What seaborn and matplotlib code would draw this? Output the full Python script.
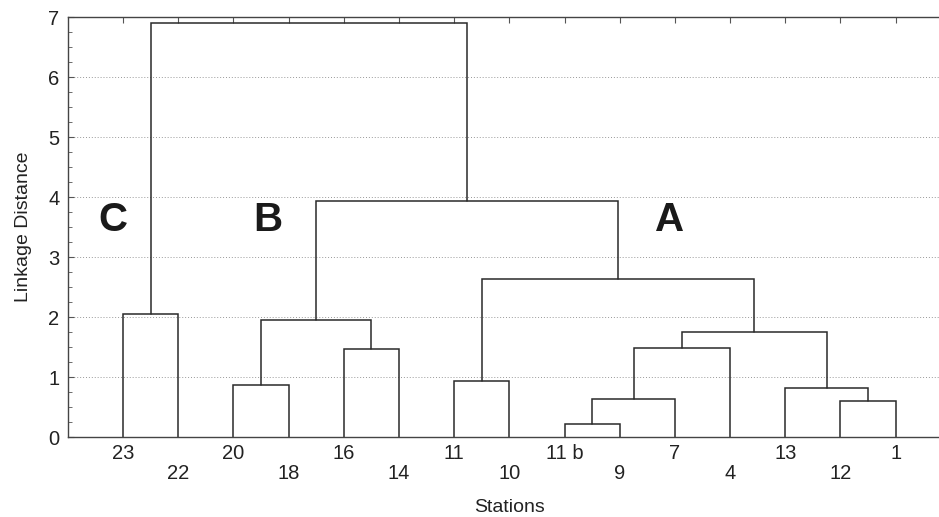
import seaborn as sns
import matplotlib.pyplot as plt
import numpy as np
from matplotlib.ticker import MultipleLocator

# leaf order along the x axis
stations = ["23", "22", "20", "18", "16", "14", "11", "10",
            "11 b", "9", "7", "4", "13", "12", "1"]

# merges: (left, right, linkage distance); ints refer to earlier merges
merge_left = ["23", "20", "16", 1, "11", "11 b", 5, 6, "12", "13", 7, 4, 3, 0]
merge_right = ["22", "18", "14", 2, "10", "9", "7", "4", "1", 8, 9, 10, 11, 12]
merge_height = [2.05, 0.86, 1.47, 1.95, 0.93, 0.22, 0.63, 1.49, 0.60, 0.81,
                1.75, 2.63, 3.93, 6.90]

groups = ["C", "B", "A"]
group_x = [0.82, 3.63, 10.9]
group_y = [3.62, 3.62, 3.62]

sns.set_style("white")
plt.rcParams["font.family"] = ["Liberation Sans", "DejaVu Sans"]

fig = plt.figure(figsize=(9.39, 5.17), dpi=100)
ax = fig.add_axes([0.0723, 0.1547, 0.9403, 0.8124])

leaf_x = {name: i + 1 for i, name in enumerate(stations)}


def node_pos(n, done):
    if isinstance(n, int):
        return done[n]
    return leaf_x[n], 0.0


done = []
for l, r, h in zip(merge_left, merge_right, merge_height):
    xl, yl = node_pos(l, done)
    xr, yr = node_pos(r, done)
    ax.plot([xl, xl, xr, xr], [yl, h, h, yr], color="#2a2a2a", lw=1.1,
            solid_joinstyle="miter")
    done.append(((xl + xr) / 2, h))

for g, gx, gy in zip(groups, group_x, group_y):
    ax.text(gx, gy, g, fontsize=29, fontweight="bold", ha="center",
            va="center", color="#1a1a1a")

ax.set_xlim(0, 16)
ax.set_ylim(0, 7)
ax.set_xticks(range(1, len(stations) + 1))
ax.set_xticklabels([s if i % 2 == 0 else "\n" + s for i, s in enumerate(stations)],
                   fontsize=14.5, color="#222222", linespacing=1.05)
ax.tick_params(axis="x", bottom=False, top=True, direction="in", length=4,
               pad=5, color="#555555")
ax.yaxis.set_major_locator(MultipleLocator(1))
ax.yaxis.set_minor_locator(MultipleLocator(0.25))
ax.tick_params(axis="y", which="both", direction="in", left=True,
               labelsize=14.5, labelcolor="#222222", color="#555555", pad=6)
ax.tick_params(axis="y", which="major", length=4)
ax.tick_params(axis="y", which="minor", length=3)
ax.yaxis.grid(True, linestyle=(0, (1, 2)), color="#999999", lw=0.7)
ax.set_axisbelow(True)

for s in ax.spines.values():
    s.set_color("#444444")
    s.set_linewidth(1.0)

ax.set_xlabel("Stations", fontsize=14, color="#222222", labelpad=12)
ax.set_ylabel("Linkage Distance", fontsize=14, color="#222222", labelpad=12)

fig.savefig("out.png", dpi=100)
